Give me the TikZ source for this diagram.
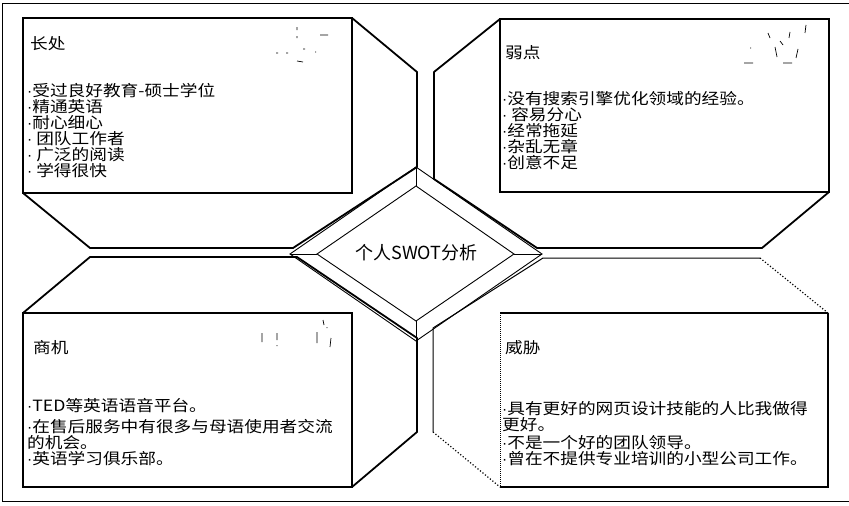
\documentclass[tikz,border=0pt]{standalone}
\usepackage{fontspec}
\newfontfamily\cjk[FakeStretch=1.14]{Noto Sans CJK SC}
\newfontfamily\cjkplain{Noto Sans CJK SC}
\newfontfamily\latinf{Liberation Sans}
\newcommand{\bul}{{\latinf ·}}
\begin{document}
\begin{tikzpicture}[x=1pt,y=-1pt,
  boxline/.style={line width=2.6pt, line join=miter},
  octline/.style={line width=1.8pt, line join=round},
  dialine/.style={line width=0.9pt, line join=miter},
  speck/.style={line width=0.7pt},
  txt/.style={font=\cjk\fontsize{15.5}{16}\selectfont, anchor=base west, inner sep=0pt},
  ctxt/.style={font=\cjkplain\fontsize{18}{18}\selectfont, anchor=base, inner sep=0pt}
]
\useasboundingbox (0,0) rectangle (849,506);
% outer frame
\draw[line width=1pt] (850,3) -- (2.5,3) -- (2.5,501) -- (850,501);

% quadrant outlines
\draw[octline] (23,18) -- (352,18) -- (417,72) -- (417,167) -- (293,248) -- (90,248) -- (23,193) -- cycle;
\draw[octline] (500,19) -- (829,19) -- (829,192) -- (762,248) -- (537,248) -- (434,179) -- (434,72) -- cycle;
\draw[octline] (23,313) -- (90,257) -- (297,257) -- (417,338) -- (417,432) -- (352,487) -- (23,487) -- cycle;
\draw[line width=1pt] (760,258) -- (543,258) -- (433,328) -- (433,432);
\draw[line width=1.2pt, dotted] (760,258) -- (828,313);
\draw[line width=1.2pt, dotted] (433,432) -- (500,487);

% text boxes
\draw[boxline] (23,18) rectangle (352,193);
\draw[boxline] (500,19) rectangle (829,192);
\draw[boxline] (23,313) rectangle (352,487);
\draw[boxline] (828,313) -- (828,487) -- (500,487);
\draw[line width=1.2pt] (500,313) -- (828,313);
\draw[line width=1pt, densely dotted] (500,313) -- (500,487);

% centre diamond
\coordinate (ot) at (416,167); \coordinate (or) at (542,254);
\coordinate (ob) at (416,341); \coordinate (ol) at (290,254);
\coordinate (it) at (416,186); \coordinate (ir) at (514,254);
\coordinate (ib) at (416,321); \coordinate (il) at (317,254);
\draw[dialine] (ot) -- (or) -- (ob) -- (ol) -- cycle;
\draw[dialine] (it) -- (ir) -- (ib) -- (il) -- cycle;
\draw[dialine] (ot) -- (it) (or) -- (ir) (ob) -- (ib) (ol) -- (il);
\node[ctxt] (title) at (416.5,259) {个人SWOT分析};

% faint icon remnants
\draw[speck] (297,27)--(297,30) (297,36)--(297,38) (320,35)--(328,35) (276,53)--(278,53)
  (286,53)--(288,53) (303,49)--(305,49) (315,52)--(316,52) (297,61)--(303,62);
\draw[speck] (768,33)--(770,38) (790,32)--(789,38) (806,25)--(805,33) (775,47)--(777,57)
  (798,49)--(796,58) (744,63)--(753,63) (783,63)--(792,63) (780,41)--(783,45) (750,48)--(751,48);
\draw[speck] (262,333)--(262,342) (277,333)--(277,340) (277,345)--(277,346) (317,332)--(317,343)
  (323,320)--(324,325) (327,327)--(327,328) (331,338)--(330,347);

% strengths
\node[txt] (sh) at (30,49) {长处};
\node[txt] (s1) at (27,96) {\bul 受过良好教育-硕士学位};
\node[txt] (s2) at (27,112) {\bul 精通英语};
\node[txt] (s3) at (27,128) {\bul 耐心细心};
\node[txt] (s4) at (27,144) {\bul\ 团队工作者};
\node[txt] (s5) at (27,160) {\bul\ 广泛的阅读};
\node[txt] (s6) at (27,176) {\bul\ 学得很快};

% weaknesses
\node[txt] (wh) at (505,58) {弱点};
\node[txt] (w1) at (502,104) {\bul 没有搜索引擎优化领域的经验。};
\node[txt] (w2) at (502,120) {\bul\ 容易分心};
\node[txt] (w3) at (502,136) {\bul 经常拖延};
\node[txt] (w4) at (502,152) {\bul 杂乱无章};
\node[txt] (w5) at (502,168) {\bul 创意不足};

% opportunities
\node[txt] (oh) at (33,353) {商机};
\node[txt] (o1) at (27,411) {\bul TED等英语语音平台。};
\node[txt] (o2) at (27,432) {\bul 在售后服务中有很多与母语使用者交流};
\node[txt] (o3) at (27,448) {的机会。};
\node[txt] (o4) at (27,464) {\bul 英语学习俱乐部。};

% threats
\node[txt] (th) at (505,353) {威胁};
\node[txt] (t1) at (502,414) {\bul 具有更好的网页设计技能的人比我做得};
\node[txt] (t2) at (502,430) {更好。};
\node[txt] (t3) at (502,448) {\bul 不是一个好的团队领导。};
\node[txt] (t4) at (502,464) {\bul 曾在不提供专业培训的小型公司工作。};
\end{tikzpicture}
\end{document}
